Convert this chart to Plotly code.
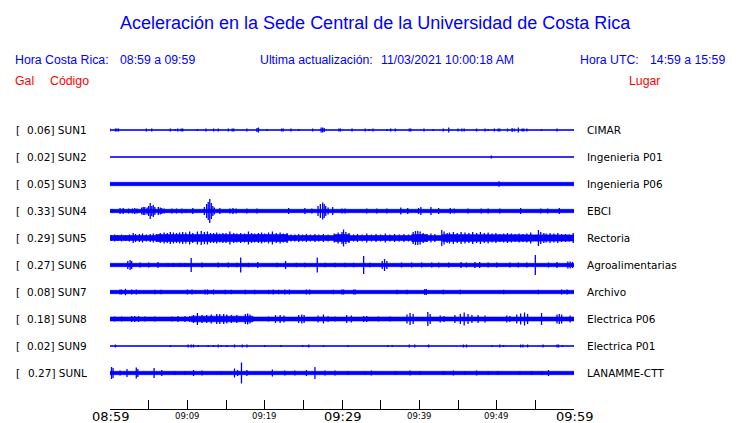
import plotly.graph_objects as go

# ---------------- data ----------------
codes = ["SUN1", "SUN2", "SUN3", "SUN4", "SUN5", "SUN6", "SUN7", "SUN8", "SUN9", "SUNL"]
gals = [0.06, 0.02, 0.05, 0.33, 0.29, 0.27, 0.08, 0.18, 0.02, 0.27]
places = ["CIMAR", "Ingenieria P01", "Ingenieria P06", "EBCI", "Rectoria",
          "Agroalimentarias", "Archivo", "Electrica P06", "Electrica P01", "LANAMME-CTT"]

# background noise band: (start minute, half width)
band_sun1 = [(0, 0.5)]
band_sun2 = [(0, 0.5)]
band_sun3 = [(0, 1.7)]
band_sun4 = [(0, 1.7)]
band_sun5 = [(0, 2.5), (6, 3.5), (23, 2.5), (29, 3.5), (31, 2.5), (39, 3.5), (41, 2.5), (43, 3.5), (50, 3.0)]
band_sun6 = [(0, 1.7)]
band_sun7 = [(0, 1.7)]
band_sun8 = [(0, 2.0), (10.5, 2.8), (18.5, 2.0)]
band_sun9 = [(0, 0.5)]
band_sunl = [(0, 1.7)]

# peaks: (minute, half amplitude)
peaks_sun1 = [(0.0, 1.5), (0.7, 1.5), (0.9, 1.5), (1.1, 1.5), (4.7, 1.5), (5.4, 1.5), (7.8, 1.5), (8.4, 1),
              (8.75, 1.5), (9.2, 1.5), (9.4, 1.5), (11.3, 1), (12.4, 1.5), (13.4, 1.5), (14.0, 1.5),
              (15.3, 1.5), (15.8, 1.5), (16.0, 1.5), (17.7, 1.5), (19.0, 2), (19.2, 2.5), (20.3, 1),
              (22.2, 1.5), (22.4, 1.5), (23.4, 1.5), (24.4, 1), (26.2, 1.5), (27.3, 2.5), (27.5, 2.5),
              (27.7, 2), (29.6, 1.5), (29.8, 1.5), (31.3, 1.5), (33.0, 1.5), (33.5, 1), (34.0, 1.5),
              (35.8, 1), (36.3, 1.5), (36.9, 1.5), (38.7, 1.5), (38.9, 1.5), (40.6, 1.5), (41.8, 1),
              (43.1, 1.5), (43.8, 2.5), (45.0, 1.5), (45.5, 1.5), (45.8, 1.5), (47.4, 1.5), (48.5, 1.5),
              (48.9, 1), (49.7, 1.5), (50.2, 1.5), (50.4, 1.5), (51.4, 1.5), (52.0, 2), (52.3, 1.5),
              (52.8, 2.5), (53.3, 1.5), (53.5, 1.5), (53.9, 1.5), (55.8, 1), (57.8, 1.5)]
peaks_sun2 = [(49.3, 1.5)]
peaks_sun3 = [(50.3, 2.7)]
peaks_sun4 = [(0.3, 2), (1.3, 3), (1.7, 3), (2.4, 2.5), (2.9, 2.5), (3.2, 3), (3.5, 2.5), (4.1, 3.5),
              (4.3, 4), (4.5, 4), (4.8, 3.5), (5.0, 5), (5.2, 8), (5.4, 5), (5.6, 6), (5.8, 4), (6.25, 4),
              (6.5, 3.5), (6.7, 3), (7.0, 2.5), (8.0, 2.5), (8.6, 2.5), (9.3, 2.5), (9.8, 2), (10.7, 3),
              (12.2, 4), (12.5, 7), (12.7, 9), (12.9, 12), (13.1, 8), (13.3, 5), (13.5, 3.5), (14.2, 3),
              (15.5, 2.5), (15.9, 3), (16.3, 2.5), (17.7, 2.5), (19.0, 2.5), (23.1, 3), (25.2, 3),
              (26.1, 2.5), (26.9, 5), (27.2, 7), (27.5, 8.5), (27.7, 7), (27.9, 5), (28.2, 3.5), (28.8, 4),
              (30.0, 2.5), (30.4, 2.5), (33.2, 2.5), (34.5, 2.5), (35.8, 2.5), (37.6, 3.5), (38.5, 3),
              (39.9, 3), (40.2, 4), (41.5, 4), (42.5, 3), (44.0, 3), (44.5, 2.5), (46.3, 2.5), (48.0, 2.5),
              (48.9, 2.5), (50.4, 2.5), (53.1, 3), (55.7, 2.5), (56.6, 2.5), (58.1, 3)]
peaks_sun5 = [(0.2, 3), (0.6, 3.5), (1.0, 3), (1.5, 3.5), (2.0, 3), (2.5, 3.5), (3.0, 5), (3.3, 4), (3.8, 4),
              (4.2, 4.5), (4.7, 3.5), (5.2, 4), (5.6, 4.5), (6.0, 4), (6.5, 5), (7.0, 5.5), (7.4, 5), (7.8, 6),
              (8.2, 5.5), (8.6, 5), (9.0, 5.5), (9.4, 6), (9.8, 5.5), (10.3, 6.5), (10.7, 5), (11.3, 6.5),
              (11.8, 7), (12.2, 6), (12.6, 6.5), (13.0, 5), (13.4, 5), (13.8, 5.5), (14.2, 4.5), (14.6, 5),
              (15.0, 5), (15.5, 6.5), (16.0, 5), (16.4, 4.5), (16.9, 5), (17.4, 4.5), (17.9, 6.5), (18.3, 5),
              (18.7, 4.5), (19.2, 5), (19.6, 5.5), (20.0, 4.5), (20.5, 5.5), (21.0, 6.5), (21.5, 5),
              (22.0, 5.5), (22.4, 4.5), (22.9, 5), (23.4, 3.5), (23.9, 3.5), (24.4, 4), (24.9, 3.5),
              (25.4, 4), (25.9, 3.5), (26.5, 4), (27.0, 3.5), (27.6, 4), (28.2, 3.5), (29.0, 4.5), (29.5, 5.5),
              (30.0, 6), (30.2, 8.5), (30.5, 6), (30.9, 5), (31.5, 3.5), (32.0, 4), (32.6, 3.5), (33.2, 4.5),
              (33.8, 3.5), (34.4, 4), (35.0, 3.5), (35.6, 4.5), (36.2, 3.5), (36.8, 4), (37.4, 3.5), (38.0, 4),
              (38.6, 3.5), (39.2, 6), (39.5, 7), (39.8, 7), (40.1, 6.5), (40.5, 5), (41.0, 4), (41.5, 4.5),
              (42.0, 4), (42.9, 8), (43.2, 6.5), (43.6, 5), (43.9, 5.5), (44.4, 6), (44.9, 5), (45.4, 6),
              (45.9, 5.5), (46.4, 5), (46.9, 6), (47.4, 5), (47.9, 6), (48.4, 5), (48.9, 5.5), (49.4, 4.5),
              (49.9, 5), (50.4, 4), (50.9, 4.5), (51.4, 5), (51.9, 4.5), (52.4, 4), (52.9, 4.5), (53.4, 4),
              (53.9, 4.5), (54.4, 5.5), (55.4, 8), (55.7, 6), (56.1, 5), (56.4, 4.5), (56.9, 5), (57.4, 4.5),
              (57.9, 5), (58.4, 4), (58.9, 4), (59.4, 3.5), (59.9, 5)]
peaks_sun6 = [(2.3, 4), (2.6, 5), (2.8, 4), (3.9, 2.5), (5.0, 2.5), (6.2, 3), (7.5, 2), (8.2, 2), (9.1, 2),
              (9.7, 2), (10.5, 7), (11.9, 2.5), (14.0, 2.5), (15.3, 2.5), (16.4, 2.2), (16.9, 7.5), (17.9, 2.2),
              (19.1, 3), (21.6, 2.2), (22.7, 4), (24.1, 2.2), (25.2, 2.2), (26.8, 7.5), (27.8, 2.2), (29.1, 2.2),
              (30.4, 2.2), (31.5, 2.2), (32.8, 9), (33.6, 2.2), (35.2, 4), (35.5, 6), (35.8, 4), (37.7, 2.5),
              (39.0, 2.5), (40.3, 2.5), (41.6, 2.5), (42.5, 2.5), (43.8, 2.5), (45.4, 3), (46.1, 2.5),
              (47.2, 3), (47.8, 3), (48.9, 2.5), (50.0, 2.5), (51.7, 2.5), (52.8, 2.5), (53.9, 2.5), (55.0, 10),
              (56.7, 2.5), (57.8, 3), (59.2, 3.5), (59.5, 3.5), (59.8, 3)]
peaks_sun7 = [(1.3, 2.5), (1.5, 2.5), (2.0, 3.3), (2.8, 2.5), (3.4, 2.5), (5.8, 2.2), (6.6, 2.2), (10.0, 2.5),
              (10.6, 2.5), (12.3, 2.5), (12.6, 2.5), (13.4, 2.5), (14.9, 2.2), (15.7, 2.2), (17.5, 2.2),
              (18.7, 2.2), (20.5, 2.2), (21.1, 2.5), (21.8, 2.2), (22.6, 2.5), (23.2, 2.5), (25.4, 2.5),
              (25.8, 2.5), (28.9, 2.2), (30.0, 2.5), (30.2, 2.5), (31.5, 2.5), (31.7, 2.5), (37.1, 2.2),
              (38.4, 2.2), (40.7, 3), (40.9, 3), (43.1, 2.2), (45.3, 2.2), (50.9, 2.2), (55.4, 2.2),
              (58.4, 2.5), (59.1, 2.5)]
peaks_sun8 = [(0.6, 2.5), (1.5, 2.5), (2.8, 3), (3.2, 3), (3.7, 3), (4.5, 2.5), (5.8, 2.5), (8.0, 2.5),
              (8.8, 3), (9.7, 3), (10.3, 3), (10.8, 4), (11.3, 6), (11.9, 4), (12.5, 4), (13.1, 4.5),
              (13.8, 5), (14.2, 5), (14.7, 5), (15.1, 4.5), (15.7, 4), (16.4, 4), (17.5, 5), (17.8, 5.5),
              (18.1, 4.5), (20.5, 2.5), (21.4, 4), (22.0, 4), (22.5, 3.5), (24.4, 4), (24.8, 4.5), (25.1, 4),
              (26.9, 3.5), (27.6, 4.5), (28.2, 3), (29.1, 2.5), (30.6, 4), (31.2, 3.5), (32.8, 3), (33.2, 3),
              (34.7, 2.5), (36.2, 2.5), (38.4, 4.5), (38.8, 6), (39.2, 5), (41.1, 7), (41.4, 5), (42.7, 3.5),
              (43.2, 3), (44.6, 4), (45.3, 5), (45.8, 6.5), (46.3, 5), (46.8, 4), (47.6, 4), (48.5, 3.5),
              (51.3, 3.5), (51.7, 3), (52.6, 4.5), (53.1, 5.5), (53.6, 6.5), (54.0, 5), (55.8, 6), (57.8, 4.5),
              (58.1, 5), (58.4, 4.5), (59.5, 3.5)]
peaks_sun9 = [(0.7, 1.5), (7.8, 1), (10.1, 1.5), (10.5, 1.5), (10.8, 1.5), (11.4, 1), (12.7, 1), (13.4, 1),
              (14.0, 1.5), (14.4, 1), (15.1, 1), (16.1, 1.5), (17.1, 1.5), (17.7, 1.5), (20.0, 1), (22.1, 1),
              (24.9, 1), (25.7, 1.5), (27.6, 1), (30.8, 1), (35.9, 1), (36.5, 1), (38.7, 1.5), (39.4, 1.5),
              (41.2, 1.5), (45.7, 1.5), (46.1, 1.5), (49.4, 1), (50.4, 1.5), (50.9, 1), (53.1, 1.5),
              (53.4, 1.5), (54.0, 1.5), (56.0, 1.5), (57.8, 1.5), (58.0, 1.5), (58.5, 1)]
peaks_sunl = [(0.2, 6), (0.4, 5), (1.3, 2.5), (2.2, 4), (3.4, 5.5), (3.6, 4), (5.7, 5), (6.7, 3), (8.4, 2),
              (9.7, 2), (10.8, 3), (11.9, 2.5), (14.4, 2), (16.1, 4.5), (16.5, 3), (17.0, 10.5), (17.7, 3),
              (21.0, 3.5), (22.6, 2.5), (23.9, 2.5), (25.4, 3), (26.5, 6), (27.8, 2.5), (29.1, 2.5), (30.8, 2),
              (33.0, 2), (33.8, 2.5), (36.9, 2), (38.8, 2.5), (40.1, 2), (43.1, 2), (44.4, 2.5), (45.9, 2),
              (47.4, 2.5), (48.9, 2), (50.2, 2), (53.0, 2), (54.5, 2), (55.8, 2), (56.7, 3)]

bands = [band_sun1, band_sun2, band_sun3, band_sun4, band_sun5, band_sun6, band_sun7, band_sun8, band_sun9, band_sunl]
peaks = [peaks_sun1, peaks_sun2, peaks_sun3, peaks_sun4, peaks_sun5, peaks_sun6, peaks_sun7, peaks_sun8, peaks_sun9, peaks_sunl]

tick_minutes = [0, 5, 10, 15, 20, 25, 30, 35, 40, 45, 50, 55, 60]
label_minutes = [0, 10, 20, 30, 40, 50, 60]
label_texts = ["08:59", "09:09", "09:19", "09:29", "09:39", "09:49", "09:59"]
major_labels = ["08:59", "09:29", "09:59"]

# ---------------- layout helpers ----------------
W, H = 740, 423
L, R, T, B = 110, 166, 100, 14
PW = W - L - R
PH = H - T - B
BLUE = "#0000ff"
RED = "#ff0000"
T_END = 60.0
first_center = 279
spacing = 27


def xp(px):
    return (px - L) / PW


def yp(py):
    return ((H - B) - py) / PH


fig = go.Figure()

for i in range(len(codes)):
    off = first_center - spacing * i
    steps = bands[i]
    xs, ys = [], []
    for k, (t0, w) in enumerate(steps):
        t1 = steps[k + 1][0] if k + 1 < len(steps) else T_END
        xs += [t0, t1]
        ys += [off + w, off + w]
    for k in range(len(steps) - 1, -1, -1):
        t0, w = steps[k]
        t1 = steps[k + 1][0] if k + 1 < len(steps) else T_END
        xs += [t1, t0]
        ys += [off - w, off - w]
    fig.add_trace(go.Scatter(x=xs, y=ys, fill="toself", fillcolor=BLUE, mode="lines",
                             line=dict(width=0.6, color=BLUE), hoverinfo="skip"))
    hx, hy = [], []
    for t, a in peaks[i]:
        hx += [t, t, None]
        hy += [off - a, off + a, None]
    fig.add_trace(go.Scatter(x=hx, y=hy, mode="lines", line=dict(width=1.3, color=BLUE),
                             hoverinfo="skip"))

ann = []
label_font = dict(family="DejaVu Sans", size=10.5, color="black")


def A(x, y, text, font, xanchor="left"):
    return dict(x=x, y=y, xref="paper", yref="paper", text=text, showarrow=False,
                xanchor=xanchor, yanchor="middle", font=font, borderpad=0)


for i in range(len(codes)):
    off = first_center - spacing * i
    yy = off / PH
    ann.append(A(xp(15), yy, "[", label_font))
    ann.append(A(xp(88), yy, f"{gals[i]:.2f}] {codes[i]}", label_font, "right"))
    ann.append(A(xp(586), yy, places[i], label_font))

for m, txt in zip(label_minutes, label_texts):
    big = txt in major_labels
    ann.append(dict(x=m, y=yp(416), xref="x", yref="paper", text=txt, showarrow=False,
                    xanchor="center", yanchor="middle", borderpad=0,
                    font=dict(family="DejaVu Sans", size=13 if big else 8.5, color="black")))

hdr = dict(family="Liberation Sans", size=12.3, color=BLUE)
red = dict(family="Liberation Sans", size=12.3, color=RED)
ann += [
    A(xp(375), yp(23), "Aceleración en la Sede Central de la Universidad de Costa Rica",
      dict(family="Liberation Sans", size=18, color=BLUE), "center"),
    A(xp(14), yp(60), "Hora Costa Rica:", hdr),
    A(xp(119), yp(60), "08:59 a 09:59", hdr),
    A(xp(259), yp(60), "Ultima actualización:", hdr),
    A(xp(380), yp(60), "11/03/2021 10:00:18 AM", hdr),
    A(xp(579), yp(60), "Hora UTC:", hdr),
    A(xp(726), yp(60), "14:59 a 15:59", hdr, "right"),
    A(xp(14), yp(81), "Gal", red),
    A(xp(49), yp(81), "Código", red),
    A(xp(628), yp(81), "Lugar", red),
]

fig.update_layout(
    width=W, height=H,
    margin=dict(l=L, r=R, t=T, b=B, pad=0),
    paper_bgcolor="white", plot_bgcolor="white",
    showlegend=False, hovermode=False,
    annotations=ann,
    xaxis=dict(range=[0, T_END], showgrid=False, zeroline=False, showline=True,
               linecolor="black", linewidth=1, ticks="inside", ticklen=9, tickwidth=1,
               tickcolor="black", tickvals=tick_minutes, showticklabels=False, fixedrange=True),
    yaxis=dict(range=[0, PH], showgrid=False, zeroline=False, showline=False,
               showticklabels=False, ticks="", fixedrange=True),
)

fig.write_html("out.html", config={"displayModeBar": False},
               post_script="document.body.style.margin='0';document.body.style.padding='0';")
